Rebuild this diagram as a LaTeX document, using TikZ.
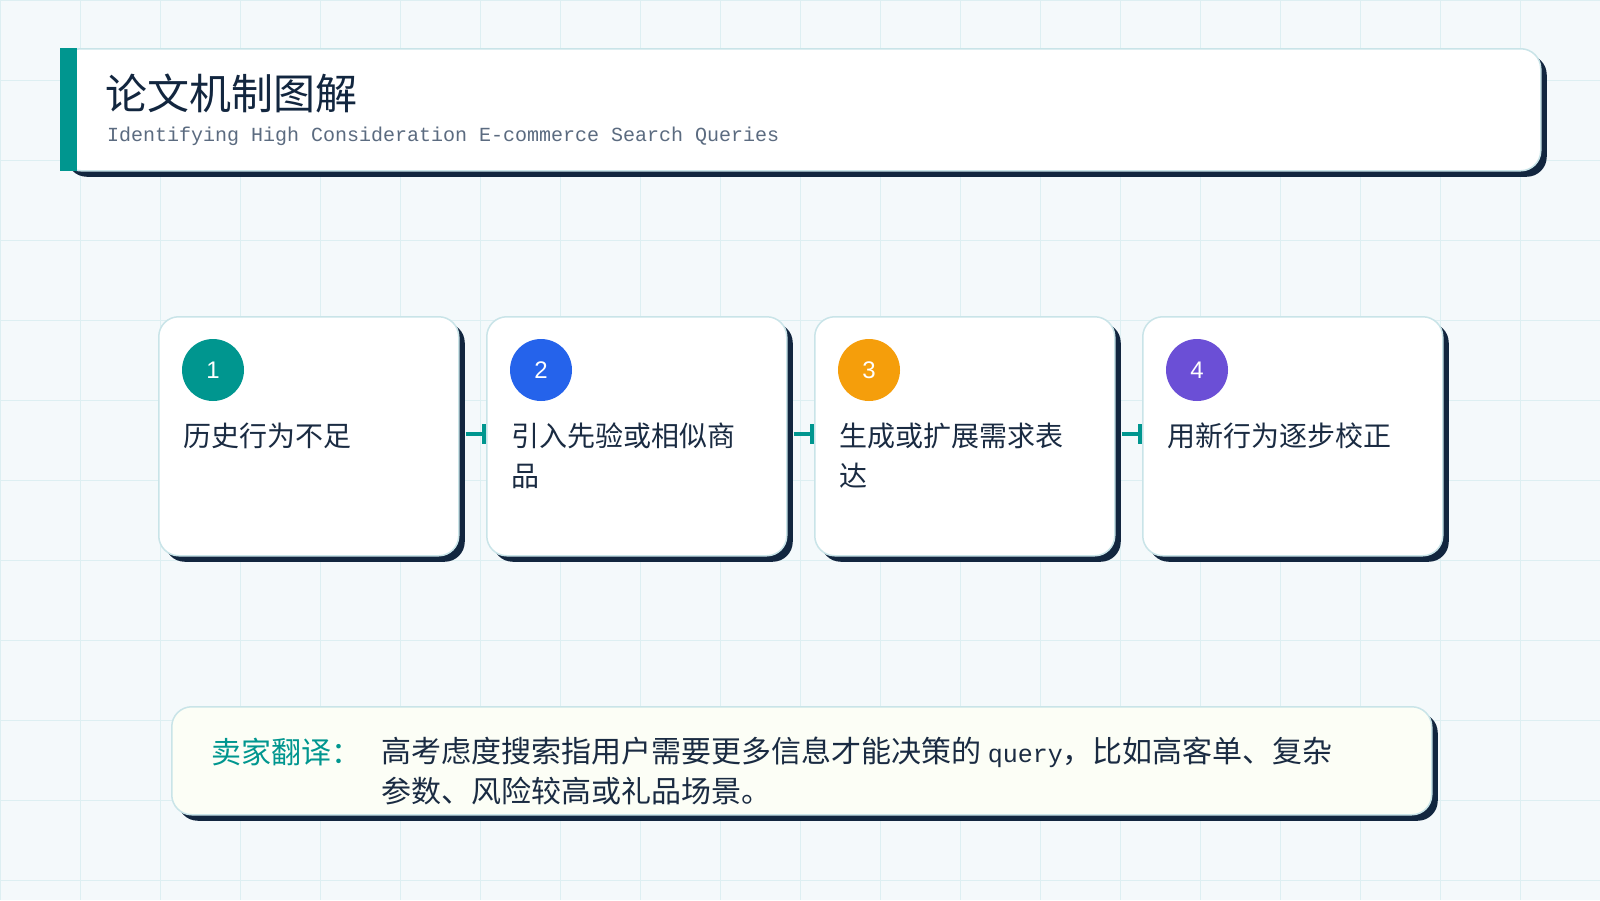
\documentclass[tikz,border=0pt]{standalone}
\usepackage{fontspec}
\setmainfont{Noto Sans CJK SC}
\newfontfamily\numfont{Liberation Sans}
\newfontfamily\monofont{Liberation Mono}
\usetikzlibrary{arrows.meta,shadows}
\definecolor{bgc}{HTML}{F4F9FB}
\definecolor{gridc}{HTML}{DDEFF2}
\definecolor{borderc}{HTML}{C9E4E8}
\definecolor{navy}{HTML}{12263F}
\definecolor{textc}{HTML}{1A2B42}
\definecolor{tealc}{HTML}{00968F}
\definecolor{bluec}{HTML}{2563EB}
\definecolor{orangec}{HTML}{F59E0B}
\definecolor{purplec}{HTML}{6B4FD6}
\definecolor{subc}{HTML}{5B6B80}
\definecolor{creamc}{HTML}{FCFEF6}
\tikzset{
  panel/.style={draw=borderc, line width=1.5pt, rounded corners=20pt,
    drop shadow={shadow xshift=6pt, shadow yshift=-6pt, fill=navy, opacity=1}},
  card/.style={panel, fill=white, minimum width=300pt, minimum height=239pt,
    anchor=north west, inner sep=0pt},
  badge/.style={circle, minimum size=62pt, inner sep=0pt, text=white,
    font=\numfont\fontsize{24}{24}\selectfont},
  cardtext/.style={anchor=base west, inner sep=0pt, align=left, text=textc,
    font=\fontsize{28}{40}\selectfont},
  notetext/.style={anchor=base west, inner sep=0pt, align=left, text=textc,
    font=\fontsize{30}{40}\selectfont},
  link/.style={draw=tealc, line width=4pt, shorten <=6pt,
    -{Bar[width=20pt,line width=4pt]}}
}
\begin{document}
\begin{tikzpicture}[x=1pt,y=-1pt]
\useasboundingbox (0,0) rectangle (1600,900);
\fill[bgc] (0,0) rectangle (1600,900);
\foreach \gx in {0,80,...,1600} \draw[gridc, line width=1pt] (\gx,0) -- (\gx,900);
\foreach \gy in {0,80,...,880} \draw[gridc, line width=1pt] (0,\gy) -- (1600,\gy);

% header
\node[panel, fill=white, minimum width=1480pt, minimum height=122pt, anchor=north west, inner sep=0pt] (head) at (60,48) {};
\fill[tealc] (60,48) rectangle (77,171);
\node[anchor=base west, inner sep=0pt, text=navy, font=\fontsize{42}{42}\selectfont] (title) at (105,109) {论文机制图解};
\node[anchor=base west, inner sep=0pt, text=subc, font=\monofont\fontsize{20}{20}\selectfont] (subtitle) at (107,141) {Identifying High Consideration E-commerce Search Queries};

% cards
\node[card] (c1) at (158,316) {};
\node[card] (c2) at (486,316) {};
\node[card] (c3) at (814,316) {};
\node[card] (c4) at (1142,316) {};

\node[badge, fill=tealc] (b1) at (213,370) {1};
\node[badge, fill=bluec] (b2) at (541,370) {2};
\node[badge, fill=orangec] (b3) at (869,370) {3};
\node[badge, fill=purplec] (b4) at (1197,370) {4};

% multi-line nodes are anchored at the baseline of their last line
\node[cardtext] (t1) at (183,446) {历史行为不足};
\node[cardtext] (t2) at (511,486) {引入先验或相似商\\品};
\node[cardtext] (t3) at (839,486) {生成或扩展需求表\\达};
\node[cardtext] (t4) at (1167,446) {用新行为逐步校正};

\draw[link] ([yshift=2pt]c1.east) -- ([yshift=2pt]c2.west);
\draw[link] ([yshift=2pt]c2.east) -- ([yshift=2pt]c3.west);
\draw[link] ([yshift=2pt]c3.east) -- ([yshift=2pt]c4.west);

% bottom note
\node[panel, fill=creamc, minimum width=1260pt, minimum height=108pt, anchor=north west, inner sep=0pt] (note) at (171,706) {};
\node[notetext, text=tealc] (lab) at (211,763) {卖家翻译：};
\node[notetext] (body) at (381,802) {高考虑度搜索指用户需要更多信息才能决策的 {\monofont\fontsize{25}{40}\selectfont query}，比如高客单、复杂\\参数、风险较高或礼品场景。};
\end{tikzpicture}
\end{document}
